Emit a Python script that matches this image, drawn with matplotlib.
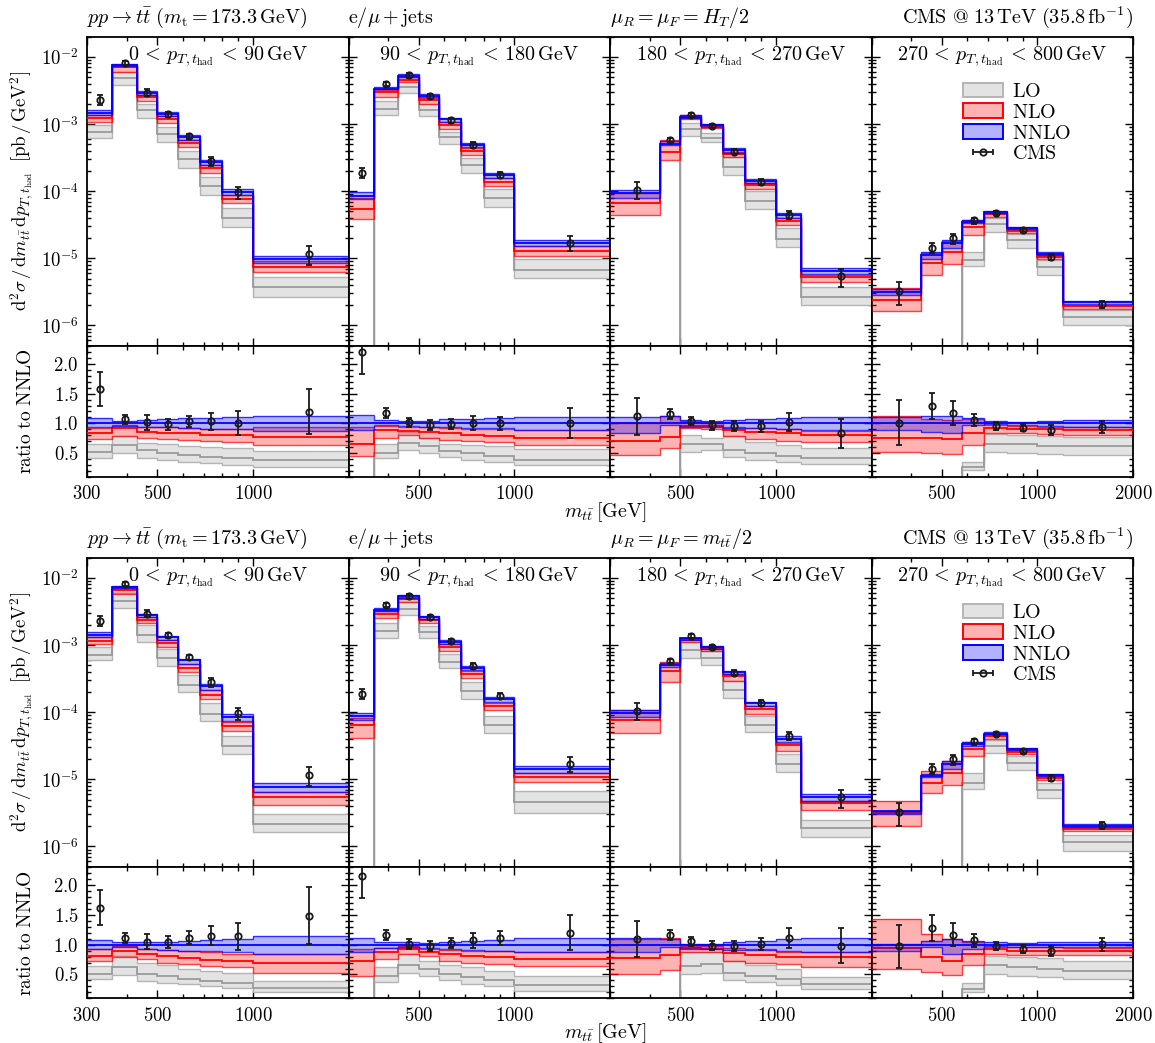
import numpy as np
import matplotlib
matplotlib.use("Agg")
import matplotlib.pyplot as plt
from matplotlib.ticker import FixedLocator, FixedFormatter, MultipleLocator, LogLocator, NullFormatter
from matplotlib.patches import Patch

plt.rcParams['mathtext.fontset'] = 'cm'
plt.rcParams['font.family'] = 'serif'
plt.rcParams['font.serif'] = ['cmr10', 'DejaVu Serif']
plt.rcParams['axes.formatter.use_mathtext'] = True

# =========================
# DATA
# =========================
mtt_edges = [
    [300, 360, 430, 500, 580, 680, 800, 1000, 2000],
    [300, 360, 430, 500, 580, 680, 800, 1000, 2000],
    [300, 430, 500, 580, 680, 800, 1000, 1200, 2000],
    [300, 430, 500, 580, 680, 800, 1000, 1200, 2000],
]
pt_labels = [
    r'$0\, < \,p_{T,t_{\mathrm{had}}}\, < \,90\,\mathrm{GeV}$',
    r'$90\, < \,p_{T,t_{\mathrm{had}}}\, < \,180\,\mathrm{GeV}$',
    r'$180\, < \,p_{T,t_{\mathrm{had}}}\, < \,270\,\mathrm{GeV}$',
    r'$270\, < \,p_{T,t_{\mathrm{had}}}\, < \,800\,\mathrm{GeV}$',
]

# CMS data [pb/GeV^2] and relative uncertainty
cms_xsec = [
    [2.32e-3, 8.1e-3, 2.95e-3, 1.39e-3, 6.6e-4, 2.8e-4, 9.7e-5, 1.16e-5],
    [1.87e-4, 3.95e-3, 5.33e-3, 2.58e-3, 1.15e-3, 4.93e-4, 1.74e-4, 1.71e-5],
    [1.06e-4, 5.82e-4, 1.35e-3, 9.35e-4, 3.9e-4, 1.37e-4, 4.46e-5, 5.4e-6],
    [3.24e-6, 1.45e-5, 2.0e-5, 3.67e-5, 4.72e-5, 2.64e-5, 1.045e-5, 2.07e-6],
]
cms_relerr = [
    [0.184, 0.078, 0.12, 0.095, 0.093, 0.138, 0.20, 0.32],
    [0.17, 0.073, 0.08, 0.085, 0.086, 0.115, 0.11, 0.25],
    [0.28, 0.073, 0.066, 0.08, 0.09, 0.10, 0.15, 0.30],
    [0.375, 0.17, 0.17, 0.10, 0.07, 0.07, 0.095, 0.11],
]

# ---- scale mu = H_T/2 : NNLO central [pb/GeV^2], bands as ratio to NNLO central
nnlo_ht = [
    [1.47e-3, 7.6e-3, 2.9e-3, 1.41e-3, 6.4e-4, 2.7e-4, 9.7e-5, 9.7e-6],
    [8.5e-5, 3.38e-3, 5.25e-3, 2.65e-3, 1.17e-3, 4.9e-4, 1.74e-4, 1.7e-5],
    [9.5e-5, 5.05e-4, 1.29e-3, 9.7e-4, 4.1e-4, 1.44e-4, 4.37e-5, 6.5e-6],
    [3.2e-6, 1.12e-5, 1.70e-5, 3.47e-5, 4.9e-5, 2.84e-5, 1.18e-5, 2.2e-6],
]
nnlo_ht_hi = [
    [1.084, 1.045, 1.056, 1.067, 1.084, 1.095, 1.10, 1.13],
    [1.134, 1.056, 1.045, 1.045, 1.067, 1.073, 1.084, 1.10],
    [1.10, 1.12, 1.056, 1.045, 1.056, 1.073, 1.084, 1.10],
    [1.10, 1.12, 1.12, 1.084, 1.045, 1.028, 1.04, 1.056],
]
nnlo_ht_lo = [
    [0.933, 0.955, 0.944, 0.933, 0.92, 0.91, 0.90, 0.877],
    [0.89, 0.97, 0.955, 0.944, 0.933, 0.927, 0.916, 0.89],
    [0.83, 0.97, 0.944, 0.933, 0.916, 0.916, 0.90, 0.89],
    [0.89, 0.86, 0.83, 0.97, 0.983, 0.972, 0.955, 0.944],
]
nlo_ht_hi = [
    [0.916, 0.978, 0.944, 0.933, 0.916, 0.905, 0.90, 0.944],
    [0.944, 0.96, 0.944, 0.933, 0.927, 0.91, 0.905, 0.89],
    [1.0, 1.13, 1.04, 1.0, 0.944, 0.927, 0.905, 0.87],
    [1.12, 1.08, 1.06, 1.08, 0.97, 0.955, 0.944, 0.933],
]
nlo_ht_c = [
    [0.83, 0.916, 0.86, 0.843, 0.83, 0.81, 0.80, 0.776],
    [0.65, 0.89, 0.87, 0.85, 0.83, 0.80, 0.79, 0.75],
    [0.70, 0.77, 0.96, 0.95, 0.88, 0.85, 0.83, 0.80],
    [0.76, 0.76, 0.73, 0.84, 0.93, 0.91, 0.90, 0.89],
]
nlo_ht_lo = [
    [0.73, 0.79, 0.76, 0.73, 0.72, 0.70, 0.69, 0.64],
    [0.45, 0.75, 0.80, 0.75, 0.72, 0.70, 0.68, 0.64],
    [0.47, 0.58, 0.92, 0.90, 0.78, 0.74, 0.71, 0.69],
    [0.51, 0.50, 0.48, 0.64, 0.83, 0.83, 0.82, 0.81],
]
lo_ht_hi = [
    [0.66, 0.79, 0.675, 0.647, 0.62, 0.60, 0.58, 0.54],
    [0.0, 0.66, 0.86, 0.75, 0.66, 0.64, 0.61, 0.57],
    [0.0, 0.0, 0.80, 0.75, 0.78, 0.69, 0.64, 0.58],
    [0.0, 0.0, 0.0, 0.355, 0.82, 0.80, 0.79, 0.765],
]
lo_ht_c = [
    [0.52, 0.64, 0.55, 0.496, 0.47, 0.44, 0.41, 0.38],
    [0.0, 0.50, 0.675, 0.61, 0.54, 0.50, 0.45, 0.39],
    [0.0, 0.0, 0.66, 0.65, 0.55, 0.50, 0.45, 0.41],
    [0.0, 0.0, 0.0, 0.27, 0.66, 0.65, 0.62, 0.61],
]
lo_ht_lo = [
    [0.42, 0.50, 0.42, 0.38, 0.35, 0.33, 0.30, 0.27],
    [0.0, 0.41, 0.55, 0.50, 0.43, 0.38, 0.34, 0.30],
    [0.0, 0.0, 0.51, 0.55, 0.43, 0.38, 0.34, 0.31],
    [0.0, 0.0, 0.0, 0.22, 0.51, 0.50, 0.48, 0.46],
]

# ---- scale mu = m_tt/2
nnlo_mtt = [
    [1.43e-3, 7.3e-3, 2.82e-3, 1.32e-3, 5.9e-4, 2.43e-4, 8.5e-5, 7.8e-6],
    [8.7e-5, 3.38e-3, 5.29e-3, 2.64e-3, 1.12e-3, 4.6e-4, 1.56e-4, 1.42e-5],
    [9.7e-5, 5.0e-4, 1.28e-3, 9.5e-4, 3.98e-4, 1.35e-4, 4.0e-5, 5.5e-6],
    [3.33e-6, 1.13e-5, 1.71e-5, 3.41e-5, 4.81e-5, 2.86e-5, 1.16e-5, 2.05e-6],
]
nnlo_mtt_hi = [
    [1.08, 1.04, 1.04, 1.05, 1.067, 1.08, 1.096, 1.15],
    [1.12, 1.04, 1.04, 1.028, 1.05, 1.067, 1.084, 1.12],
    [1.11, 1.096, 1.01, 1.01, 1.04, 1.067, 1.096, 1.11],
    [1.02, 1.07, 1.10, 1.067, 1.04, 1.028, 1.04, 1.05],
]
nnlo_mtt_lo = [
    [0.93, 0.955, 0.927, 0.91, 0.90, 0.89, 0.87, 0.84],
    [0.87, 0.94, 0.955, 0.94, 0.927, 0.91, 0.90, 0.87],
    [0.87, 0.955, 0.927, 0.927, 0.916, 0.91, 0.90, 0.87],
    [0.90, 0.955, 0.84, 0.927, 0.972, 0.955, 0.955, 0.955],
]
nlo_mtt_hi = [
    [0.93, 0.97, 0.93, 0.91, 0.90, 0.876, 0.85, 0.84],
    [0.93, 0.95, 0.97, 0.93, 0.916, 0.90, 0.887, 0.876],
    [1.10, 1.12, 0.98, 0.97, 0.94, 0.93, 0.88, 0.87],
    [1.44, 1.18, 1.10, 1.05, 0.955, 0.955, 0.955, 0.944],
]
nlo_mtt_c = [
    [0.815, 0.90, 0.84, 0.81, 0.78, 0.74, 0.73, 0.69],
    [0.73, 0.87, 0.92, 0.88, 0.84, 0.81, 0.79, 0.76],
    [0.78, 0.82, 0.94, 0.93, 0.86, 0.83, 0.80, 0.80],
    [0.94, 0.79, 0.73, 0.84, 0.93, 0.90, 0.89, 0.89],
]
nlo_mtt_lo = [
    [0.73, 0.80, 0.76, 0.70, 0.67, 0.65, 0.62, 0.53],
    [0.47, 0.76, 0.84, 0.81, 0.73, 0.70, 0.68, 0.64],
    [0.50, 0.57, 0.87, 0.87, 0.73, 0.70, 0.67, 0.63],
    [0.60, 0.545, 0.49, 0.66, 0.84, 0.83, 0.83, 0.82],
]
lo_mtt_hi = [
    [0.646, 0.81, 0.70, 0.66, 0.60, 0.56, 0.52, 0.39],
    [0.0, 0.62, 0.84, 0.73, 0.66, 0.62, 0.56, 0.48],
    [0.0, 0.0, 0.88, 0.87, 0.73, 0.66, 0.59, 0.45],
    [0.0, 0.0, 0.0, 0.365, 0.81, 0.79, 0.77, 0.73],
]
lo_mtt_c = [
    [0.505, 0.62, 0.505, 0.48, 0.43, 0.39, 0.365, 0.28],
    [0.0, 0.48, 0.66, 0.59, 0.505, 0.45, 0.41, 0.32],
    [0.0, 0.0, 0.65, 0.67, 0.53, 0.48, 0.42, 0.34],
    [0.0, 0.0, 0.0, 0.26, 0.66, 0.62, 0.59, 0.56],
]
lo_mtt_lo = [
    [0.42, 0.49, 0.39, 0.365, 0.34, 0.30, 0.28, 0.21],
    [0.0, 0.38, 0.53, 0.48, 0.41, 0.34, 0.31, 0.22],
    [0.0, 0.0, 0.505, 0.53, 0.41, 0.38, 0.32, 0.25],
    [0.0, 0.0, 0.0, 0.21, 0.505, 0.48, 0.45, 0.42],
]

# =========================
# STYLE
# =========================
FS_TICK = 13.5
FS_TXT = 14.5
FS_YLAB = 13.5
LO_FILL, LO_EDGE, LO_CEN = '#e3e3e3', '#b4b4b4', '#9a9a9a'
NLO_FILL, NLO_EDGE = (1.0, 0.0, 0.0, 0.30), (1.0, 0.0, 0.0, 0.75)
NNLO_FILL, NNLO_EDGE = (0.0, 0.0, 1.0, 0.30), (0.0, 0.0, 1.0, 0.75)

fig = plt.figure(figsize=(11.55, 10.43), dpi=100)
left = 87 / 1155
pw = 261.5 / 1155


def draw_band(ax, edges, lo, cen, hi, fill, edge, cen_col, logy, z):
    lo, cen, hi = np.asarray(lo, float), np.asarray(cen, float), np.asarray(hi, float)
    if logy:
        lo, cen, hi = [np.where(v > 0, v, 1e-30) for v in (lo, cen, hi)]
    ax.stairs(hi, edges, baseline=lo, fill=True, facecolor=fill, edgecolor='none', lw=0, zorder=z)
    ax.stairs(lo, edges, baseline=None, color=edge, lw=1.0, zorder=z + 0.1)
    ax.stairs(hi, edges, baseline=None, color=edge, lw=1.0, zorder=z + 0.1)
    ax.stairs(cen, edges, baseline=None, color=cen_col, lw=1.3, zorder=z + 0.2)


def style_x(ax, i, labels):
    ax.set_xscale('log')
    ax.set_xlim(300, 2000)
    ax.xaxis.set_major_locator(FixedLocator([300, 500, 1000, 2000]))
    ax.xaxis.set_minor_locator(FixedLocator([400, 600, 700, 800, 900]))
    ax.xaxis.set_minor_formatter(NullFormatter())
    if labels:
        txt = ['$300$' if i == 0 else '', '$500$', '$1000$', '$2000$' if i == 3 else '']
        ax.xaxis.set_major_formatter(FixedFormatter(txt))
    else:
        ax.xaxis.set_major_formatter(NullFormatter())
    ax.tick_params(which='both', direction='in', top=True, right=True, width=1.0)
    ax.tick_params(which='major', length=5.5, labelsize=FS_TICK, pad=6)
    ax.tick_params(which='minor', length=3)
    for s in ax.spines.values():
        s.set_linewidth(1.3)


def draw_block(y_main, h_main, y_ratio, h_ratio, nnlo, bands, scale_title):
    for i in range(4):
        edges = np.array(mtt_edges[i], float)
        cen = np.array(nnlo[i])
        ax = fig.add_axes([left + i * pw, y_main, pw, h_main])
        axr = fig.add_axes([left + i * pw, y_ratio, pw, h_ratio])

        for k, (lo_r, c_r, hi_r, fill, edge, ccol) in enumerate(bands):
            lo_r, c_r, hi_r = np.array(lo_r[i]), np.array(c_r[i]), np.array(hi_r[i])
            draw_band(ax, edges, lo_r * cen, c_r * cen, hi_r * cen, fill, edge, ccol, True, 2 + k)
            draw_band(axr, edges, lo_r, c_r, hi_r, fill, edge, ccol, False, 2 + k)

        xc = 0.5 * (edges[:-1] + edges[1:])
        val = np.array(cms_xsec[i])
        err = val * np.array(cms_relerr[i])
        kw = dict(fmt='o', ms=4.6, mfc='none', mec='#1a1a1a', mew=1.3, ecolor='#1a1a1a',
                  elinewidth=1.3, capsize=2.4, capthick=1.2, zorder=10)
        ax.errorbar(xc, val, yerr=err, **kw)
        axr.errorbar(xc, val / cen, yerr=err / cen, **kw)

        ax.set_yscale('log')
        ax.set_ylim(5e-7, 2e-2)
        style_x(ax, i, False)
        style_x(axr, i, True)
        ax.yaxis.set_major_locator(FixedLocator([1e-6, 1e-5, 1e-4, 1e-3, 1e-2]))
        ax.yaxis.set_minor_locator(LogLocator(base=10, subs=np.arange(2, 10), numticks=20))
        ax.yaxis.set_minor_formatter(NullFormatter())
        axr.set_ylim(0.1, 2.31)
        axr.yaxis.set_major_locator(FixedLocator([0.5, 1.0, 1.5, 2.0]))
        axr.yaxis.set_minor_locator(MultipleLocator(0.1))
        if i == 0:
            ax.yaxis.set_major_formatter(FixedFormatter(
                [r'$10^{-6}$', r'$10^{-5}$', r'$10^{-4}$', r'$10^{-3}$', r'$10^{-2}$']))
            axr.yaxis.set_major_formatter(FixedFormatter(['$0.5$', '$1.0$', '$1.5$', '$2.0$']))
            ax.set_ylabel(r'$\mathrm{d}^2\sigma\,/\,\mathrm{d}m_{t\bar{t}}\,\mathrm{d}p_{T,t_{\mathrm{had}}}'
                          r'\;\;[\mathrm{pb}\,/\,\mathrm{GeV}^2]$', fontsize=FS_YLAB)
            axr.set_ylabel(r'$\mathrm{ratio\ to\ NNLO}$', fontsize=14)
            ax.yaxis.set_label_coords(-0.2, 0.5)
            axr.yaxis.set_label_coords(-0.2, 0.5)
        else:
            ax.yaxis.set_major_formatter(NullFormatter())
            axr.yaxis.set_major_formatter(NullFormatter())

        ax.text(0.5, 0.977, pt_labels[i], transform=ax.transAxes, ha='center', va='top', fontsize=FS_TXT)

        if i == 0:
            ax.text(0.0, 1.022, r'$pp \to t\bar{t}\ (m_{\mathrm{t}} = 173.3\,\mathrm{GeV})$',
                    transform=ax.transAxes, ha='left', va='bottom', fontsize=FS_TXT)
        elif i == 1:
            ax.text(0.0, 1.022, r'$\mathrm{e}/\mu + \mathrm{jets}$',
                    transform=ax.transAxes, ha='left', va='bottom', fontsize=FS_TXT)
        elif i == 2:
            ax.text(0.0, 1.022, scale_title,
                    transform=ax.transAxes, ha='left', va='bottom', fontsize=FS_TXT)
        else:
            ax.text(1.0, 1.022, r'$\mathrm{CMS\ @\ 13\,TeV\ (35.8\,fb^{-1})}$',
                    transform=ax.transAxes, ha='right', va='bottom', fontsize=FS_TXT)
            hdata = ax.errorbar([np.nan], [np.nan], xerr=[1.0], **kw)
            handles = [Patch(facecolor=LO_FILL, edgecolor=LO_EDGE, lw=1.4),
                       Patch(facecolor=NLO_FILL, edgecolor='red', lw=1.4),
                       Patch(facecolor=NNLO_FILL, edgecolor='blue', lw=1.4),
                       hdata]
            ax.legend(handles, [r'$\mathrm{LO}$', r'$\mathrm{NLO}$', r'$\mathrm{NNLO}$', r'$\mathrm{CMS}$'],
                      loc='upper left', bbox_to_anchor=(0.28, 0.91), frameon=False,
                      fontsize=FS_TXT, handlelength=2.0, handletextpad=0.45, labelspacing=0.12,
                      handleheight=0.75)

    fig.text(605 / 1155, y_ratio - 35 / 1043, r'$m_{t\bar{t}}\,[\mathrm{GeV}]$',
             ha='center', va='center', fontsize=FS_TXT)


bands_ht = [
    (lo_ht_lo, lo_ht_c, lo_ht_hi, LO_FILL, LO_EDGE, LO_CEN),
    (nlo_ht_lo, nlo_ht_c, nlo_ht_hi, NLO_FILL, NLO_EDGE, 'red'),
    (nnlo_ht_lo, [[1.0] * 8] * 4, nnlo_ht_hi, NNLO_FILL, NNLO_EDGE, 'blue'),
]
bands_mtt = [
    (lo_mtt_lo, lo_mtt_c, lo_mtt_hi, LO_FILL, LO_EDGE, LO_CEN),
    (nlo_mtt_lo, nlo_mtt_c, nlo_mtt_hi, NLO_FILL, NLO_EDGE, 'red'),
    (nnlo_mtt_lo, [[1.0] * 8] * 4, nnlo_mtt_hi, NNLO_FILL, NNLO_EDGE, 'blue'),
]

draw_block(1 - 345.7 / 1043, 309 / 1043, 1 - 476.7 / 1043, 131 / 1043,
           nnlo_ht, bands_ht, r'$\mu_R = \mu_F = H_T/2$')
draw_block(1 - 866.7 / 1043, 309 / 1043, 1 - 998.3 / 1043, 131.6 / 1043,
           nnlo_mtt, bands_mtt, r'$\mu_R = \mu_F = m_{t\bar{t}}/2$')

fig.savefig('out.png', dpi=100)
